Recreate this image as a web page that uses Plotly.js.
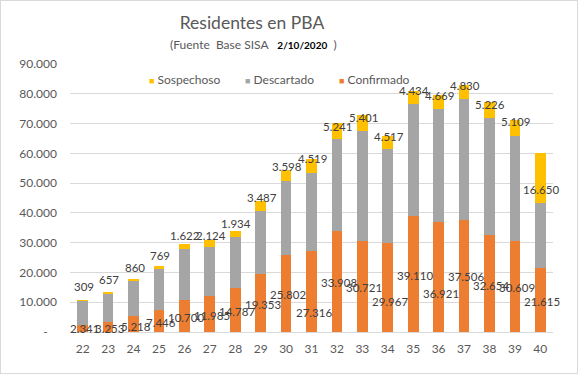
<!DOCTYPE html>
<html>
<head>
<meta charset="utf-8">
<script src="https://cdn.plot.ly/plotly-3.0.1.min.js"></script>
<style>
html,body{margin:0;padding:0;background:#fff;}
#wrap{width:576px;height:372px;border:1px solid #d9d9d9;}
#chart{width:576px;height:372px;}
</style>
</head>
<body>
<div id="wrap"><div id="chart"></div></div>
<script>
// ---- data ----
const weeks = ['22','23','24','25','26','27','28','29','30','31','32','33','34','35','36','37','38','39','40'];
const confirmado = [2341,3253,5218,7446,10700,11985,14787,19353,25802,27316,33908,30721,29967,39110,36921,37506,32654,30609,21615];
const descartado = [8220,9650,11810,13830,17270,16660,17100,21250,24950,26110,30910,36800,31500,37540,37950,40710,39310,35320,21770];
const sospechoso = [309,657,860,769,1622,2124,1934,3487,3598,4519,5241,5401,4517,4434,4669,4830,5226,5109,16650];
const yTickVals = [0,10000,20000,30000,40000,50000,60000,70000,80000,90000];
const yTickText = ['-\u00a0\u00a0\u00a0','10.000','20.000','30.000','40.000','50.000','60.000','70.000','80.000','90.000'];
// label anchor heights (data units) as placed in the original
const confLabelY = [1070,1170,1940,3280,4960,5530,6970,9210,12560,6430,16480,14800,10320,19030,12800,18490,15580,14800,10320];
const sospLabelY = [15140,17590,21510,25630,32330,32330,36580,45160,55540,58120,68940,72090,65590,81000,79560,82910,76550,70620,47740];

const C_CONF = '#ED7D31', C_DESC = '#A5A5A5', C_SOSP = '#FFC000';
const FONT = 'Lato, "Open Sans", sans-serif';

function fmt(n){ return String(n).replace(/\B(?=(\d{3})+(?!\d))/g, '.'); }

const traces = [
  {type:'bar', name:'Confirmado', x:weeks, y:confirmado, marker:{color:C_CONF}, hoverinfo:'none'},
  {type:'bar', name:'Descartado', x:weeks, y:descartado, marker:{color:C_DESC}, hoverinfo:'none'},
  {type:'bar', name:'Sospechoso', x:weeks, y:sospechoso, marker:{color:C_SOSP}, hoverinfo:'none'}
];

const annotations = [];
weeks.forEach((w,i)=>{
  annotations.push({x:i, y:confLabelY[i], xref:'x', yref:'y', text:fmt(confirmado[i]), showarrow:false, xshift:2,
    font:{family:FONT, size:11.5, color:'#404040'}});
  annotations.push({x:i, y:sospLabelY[i], xref:'x', yref:'y', text:fmt(sospechoso[i]), showarrow:false, xshift:1,
    font:{family:FONT, size:11.5, color:'#404040'}});
});
// subtitle
annotations.push({xref:'paper', yref:'paper', x:(252-69)/483, y:1+(63-43)/268, xanchor:'center', yanchor:'middle', showarrow:false,
  text:'<span style="color:#595959;font-size:12px">(Fuente\u00a0 Base SISA\u00a0\u00a0\u00a0</span><span style="color:#000;font-size:10px"><b>2/10/2020</b></span><span style="color:#595959;font-size:12px">\u00a0\u00a0)</span>',
  font:{family:FONT, size:12, color:'#595959'}});
// legend (custom)
const legendItems = [['Sospechoso',C_SOSP,150],['Descartado',C_DESC,246],['Confirmado',C_CONF,340]];
legendItems.forEach(([name,col,px])=>{
  annotations.push({xref:'paper', yref:'paper', x:(px-4-69)/483, y:1-(78-63)/268, xanchor:'left', yanchor:'middle', showarrow:false,
    text:'<span style="color:'+col+';font-size:9px">■</span> '+name, font:{family:FONT, size:12, color:'#595959'}});
});

const layout = {
  width:576, height:372,
  margin:{l:69, r:24, t:63, b:41, pad:0},
  paper_bgcolor:'#fff', plot_bgcolor:'#fff',
  barmode:'stack', bargap:0.58,
  showlegend:false,
  separators:',.',
  title:{text:'Residentes en PBA', x:251/576, xanchor:'center', y:1-22/372, yanchor:'middle',
    font:{family:FONT, size:17.5, color:'#595959'}},
  xaxis:{type:'category', range:[-0.5,18.5], tickmode:'linear', dtick:1, tick0:0, showgrid:false, showline:true, linecolor:'#d9d9d9', linewidth:1, ticks:'',
    tickfont:{family:FONT, size:12, color:'#595959'}, ticklabelstandoff:6, fixedrange:true},
  yaxis:{range:[0,90000], tickvals:yTickVals, ticktext:yTickText, showgrid:true, gridcolor:'#d9d9d9', gridwidth:1,
    zeroline:false, showline:false, ticks:'', tickfont:{family:FONT, size:12, color:'#595959'}, ticklabelstandoff:12, fixedrange:true},
  annotations:annotations
};

Plotly.newPlot('chart', traces, layout, {displayModeBar:false, staticPlot:true});
</script>
</body>
</html>
